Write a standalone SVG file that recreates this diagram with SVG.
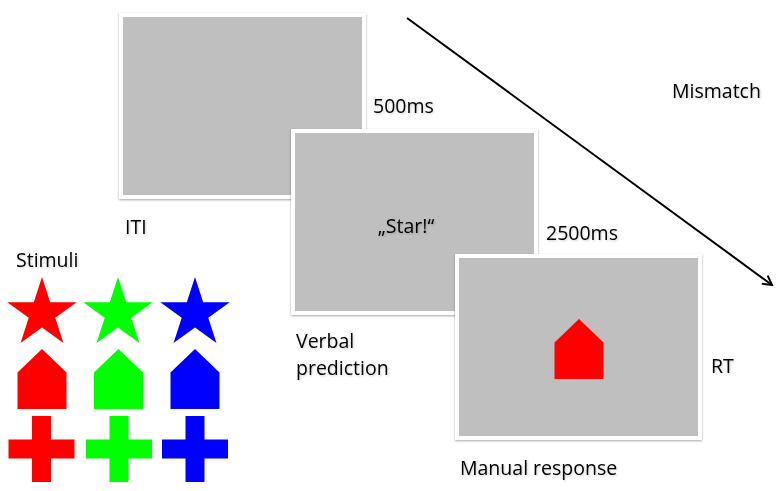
<svg xmlns="http://www.w3.org/2000/svg" xmlns:xlink="http://www.w3.org/1999/xlink" width="784" height="491" viewBox="0 0 784 491">
<style>
.frame{fill:#ffffff;filter:url(#shadow)}
.screen{fill:#bfbfbf}
.lbl{font-family:"Open Sans","Liberation Sans",sans-serif;font-size:19.5px;fill:#000;filter:url(#tshadow)}
.conn{stroke:#000;stroke-width:2;fill:none}
.red{fill:#ff0000}.green{fill:#00ff00}.blue{fill:#0000ff}
</style>
<defs>
<filter id="shadow" x="-5%" y="-5%" width="110%" height="110%">
<feDropShadow dx="0" dy="1" stdDeviation="1.2" flood-color="#000" flood-opacity="0.35"/>
</filter>
<filter id="tshadow" x="-10%" y="-20%" width="120%" height="140%">
<feDropShadow dx="1" dy="1" stdDeviation="0.8" flood-color="#000" flood-opacity="0.2"/>
</filter>
<marker id="arrow" viewBox="0 0 12 12" refX="10" refY="6" markerWidth="12" markerHeight="12" markerUnits="userSpaceOnUse" orient="auto">
<path d="M1,1 L10,6 L1,11" fill="none" stroke="#000" stroke-width="2"/>
</marker>
<path id="star" d="M0,-36.5 L8.2,-11.29 L34.71,-11.28 L13.27,4.31 L21.45,29.53 L0,13.95 L-21.45,29.53 L-13.27,4.31 L-34.71,-11.28 L-8.2,-11.29 Z"/>
<path id="house" d="M0,0 L24.5,23.5 L24.5,60 L-24.5,60 L-24.5,23.5 Z"/>
<path id="cross" d="M-9.5,-33 h19 v23.5 h23.5 v19 h-23.5 v23.5 h-19 v-23.5 h-23.5 v-19 h23.5 Z"/>
</defs>
<rect width="784" height="491" fill="#ffffff"/>

<g id="connectors">
<line class="conn" x1="407" y1="18" x2="772" y2="285" marker-end="url(#arrow)"/>
</g>

<g id="screen-iti">
<rect class="frame" x="119" y="13" width="247" height="186"/>
<rect class="screen" x="123" y="17" width="239" height="178"/>
</g>

<g id="screen-prediction">
<rect class="frame" x="291" y="129" width="247" height="186"/>
<rect class="screen" x="295" y="133" width="239" height="178"/>
<text class="lbl" x="406" y="233" text-anchor="middle">„Star!“</text>
</g>

<g id="screen-response">
<rect class="frame" x="455" y="254" width="247" height="186"/>
<rect class="screen" x="459" y="258" width="239" height="178"/>
<use xlink:href="#house" href="#house" class="red" x="579" y="319"/>
</g>

<g id="labels">
<text class="lbl" x="373" y="113">500ms</text>
<text class="lbl" x="672" y="98">Mismatch</text>
<text class="lbl" x="125" y="234">ITI</text>
<text class="lbl" x="546" y="240">2500ms</text>
<text class="lbl" x="296" y="348">Verbal</text>
<text class="lbl" x="296" y="375">prediction</text>
<text class="lbl" x="711" y="373">RT</text>
<text class="lbl" x="460" y="475">Manual response</text>
<text class="lbl" x="16" y="267">Stimuli</text>
</g>

<g id="stimuli">
<use xlink:href="#star" href="#star" class="red" x="42" y="313.5"/>
<use xlink:href="#star" href="#star" class="green" x="118" y="313.5"/>
<use xlink:href="#star" href="#star" class="blue" x="195" y="313.5"/>
<use xlink:href="#house" href="#house" class="red" x="42" y="349"/>
<use xlink:href="#house" href="#house" class="green" x="118.5" y="349"/>
<use xlink:href="#house" href="#house" class="blue" x="195" y="349"/>
<use xlink:href="#cross" href="#cross" class="red" x="41.5" y="449"/>
<use xlink:href="#cross" href="#cross" class="green" x="119" y="449"/>
<use xlink:href="#cross" href="#cross" class="blue" x="195" y="449"/>
</g>
</svg>
